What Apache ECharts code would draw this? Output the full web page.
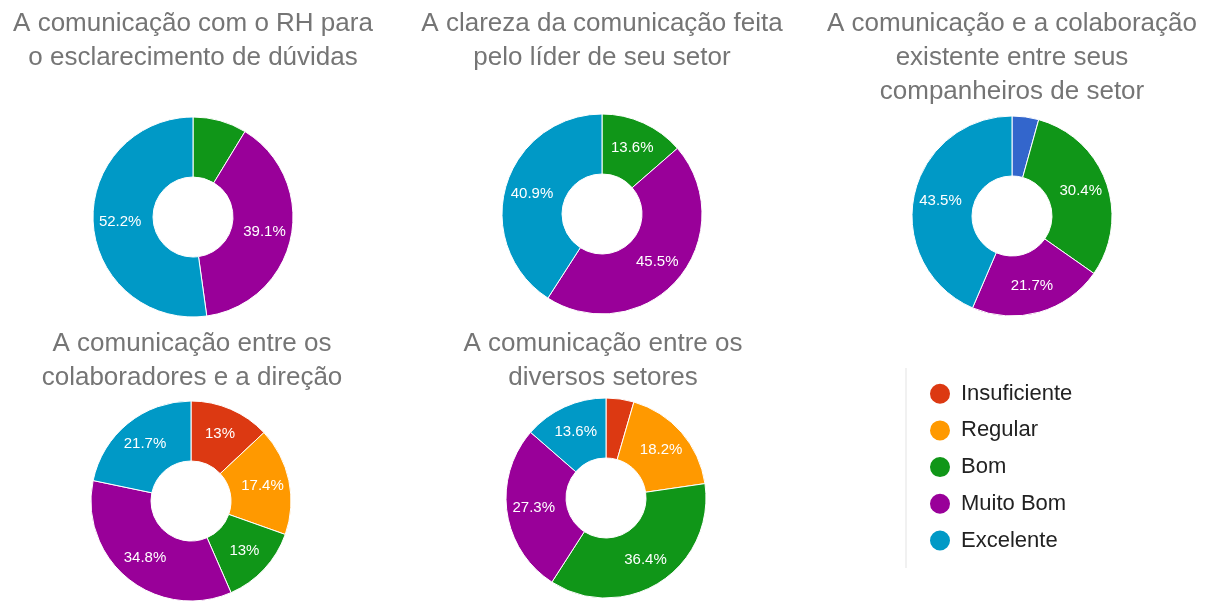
<!DOCTYPE html>
<html>
<head>
<meta charset="utf-8">
<script src="https://cdn.jsdelivr.net/npm/echarts@6/dist/echarts.min.js"></script>
<style>
html,body{margin:0;padding:0;background:#fff;}
#c{width:1205px;height:601px;}
</style>
</head>
<body>
<div id="c"></div>
<script>
// ---- data ----
var legendNames = ['Insuficiente', 'Regular', 'Bom', 'Muito Bom', 'Excelente'];
var titles = [
  'A comunicação com o RH para\no esclarecimento de dúvidas',
  'A clareza da comunicação feita\npelo líder de seu setor',
  'A comunicação e a colaboração\nexistente entre seus\ncompanheiros de setor',
  'A comunicação entre os\ncolaboradores e a direção',
  'A comunicação entre os\ndiversos setores'
];
var cats1 = ['Bom', 'Muito Bom', 'Excelente'];
var vals1 = [8.7, 39.1, 52.2];
var cats2 = ['Bom', 'Muito Bom', 'Excelente'];
var vals2 = [13.6, 45.5, 40.9];
var cats3 = ['Outra', 'Bom', 'Muito Bom', 'Excelente'];
var vals3 = [4.3, 30.4, 21.7, 43.5];
var cats4 = ['Insuficiente', 'Regular', 'Bom', 'Muito Bom', 'Excelente'];
var vals4 = [13, 17.4, 13, 34.8, 21.7];
var cats5 = ['Insuficiente', 'Regular', 'Bom', 'Muito Bom', 'Excelente'];
var vals5 = [4.5, 18.2, 36.4, 27.3, 13.6];

// ---- styling ----
var colorMap = {
  'Outra': '#3366cc',
  'Insuficiente': '#dc3912',
  'Regular': '#ff9900',
  'Bom': '#109618',
  'Muito Bom': '#990099',
  'Excelente': '#0099c6'
};
var FONT = 'Arial, "Liberation Sans", sans-serif';
var layouts = [
  {cx: 193, cy: 217, tx: 193, ty: 7},
  {cx: 602, cy: 214, tx: 602, ty: 7},
  {cx: 1012, cy: 216, tx: 1012, ty: 7},
  {cx: 191, cy: 501, tx: 192, ty: 327},
  {cx: 606, cy: 498, tx: 603, ty: 327}
];
var allCats = [cats1, cats2, cats3, cats4, cats5];
var allVals = [vals1, vals2, vals3, vals4, vals5];

var titleOpts = [], seriesOpts = [];
for (var i = 0; i < 5; i++) {
  var L = layouts[i];
  titleOpts.push({
    text: titles[i],
    left: L.tx, top: L.ty, textAlign: 'center', padding: 0,
    textStyle: {fontFamily: FONT, fontSize: 26, fontWeight: 'normal', color: '#757575', lineHeight: 34}
  });
  var data = allCats[i].map(function (n, k) {
    var v = allVals[i][k];
    return {
      name: n, value: v,
      itemStyle: {color: colorMap[n]},
      label: {show: v >= 10}
    };
  });
  seriesOpts.push({
    type: 'pie',
    center: [L.cx, L.cy],
    radius: [40, 100],
    startAngle: 90,
    clockwise: true,
    avoidLabelOverlap: false,
    animation: false,
    silent: true,
    itemStyle: {borderColor: '#fff', borderWidth: 1},
    label: {
      position: 'inside',
      color: '#fff',
      fontFamily: FONT,
      fontSize: 15,
      formatter: function (p) { return p.value + '%'; }
    },
    labelLine: {show: false},
    data: data
  });
}

var chart = echarts.init(document.getElementById('c'));
chart.setOption({
  backgroundColor: '#fff',
  animation: false,
  title: titleOpts,
  legend: {
    data: legendNames,
    orient: 'vertical',
    left: 928, top: 381.7,
    icon: 'circle',
    itemWidth: 22, itemHeight: 22,
    itemGap: 12.7,
    padding: 0,
    selectedMode: false,
    textStyle: {fontFamily: FONT, fontSize: 22, lineHeight: 22, color: '#222', padding: [0, 0, 0, 5]}
  },
  graphic: [{
    type: 'line',
    shape: {x1: 906, y1: 368, x2: 906, y2: 568},
    style: {stroke: '#e3e3e3', lineWidth: 1}
  }],
  series: seriesOpts
});
</script>
</body>
</html>
